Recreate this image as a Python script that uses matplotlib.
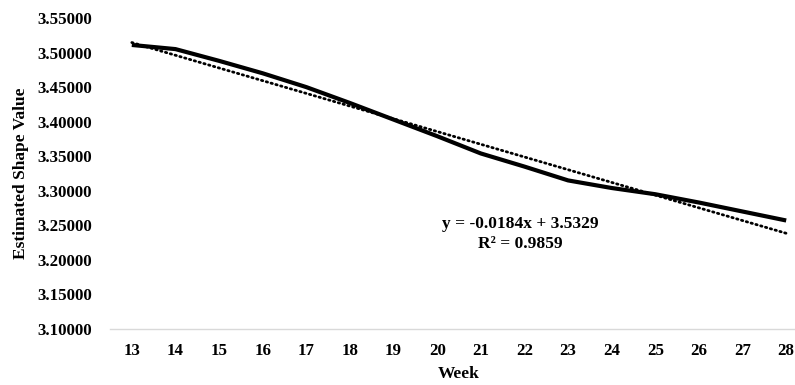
import numpy as np
import matplotlib
matplotlib.use("Agg")
import matplotlib.pyplot as plt

# 데이터
weeks = [13, 14, 15, 16, 17, 18, 19, 20, 21, 22, 23, 24, 25, 26, 27, 28]
shape_values = [3.511, 3.505, 3.488, 3.470, 3.450, 3.427, 3.403, 3.379,
                3.354, 3.335, 3.315, 3.304, 3.295, 3.283, 3.270, 3.257]
trend_slope = -0.0184
trend_intercept = 3.5329
trend_r2 = 0.9859
y_ticks = [3.10, 3.15, 3.20, 3.25, 3.30, 3.35, 3.40, 3.45, 3.50, 3.55]

plt.rcParams["font.family"] = ["Liberation Serif", "DejaVu Serif"]
plt.rcParams["font.weight"] = "bold"

fig = plt.figure(figsize=(7.95, 3.85), dpi=100)
ax = fig.add_axes([110 / 795, 1 - 329 / 385, 698 / 795, 311 / 385])

x = np.array(weeks)
idx = np.arange(1, len(weeks) + 1)
trend = trend_intercept + trend_slope * idx

ax.plot(x, shape_values, color="black", lw=3.0, solid_capstyle="butt", zorder=3)
ax.plot(x, trend, color="black", lw=2.0, linestyle=(0, (0.5, 1.3)),
        dash_capstyle="round", zorder=2)

ax.set_xlim(12.5, 28.5)
ax.set_ylim(3.10, 3.55)
ax.set_xticks(weeks)
ax.set_xticklabels([str(w) for w in weeks])
ax.set_yticks(y_ticks)
ax.set_yticklabels([f"{v:.5f}" for v in y_ticks])
ax.tick_params(axis="both", length=0, labelsize=12.2)
ax.tick_params(axis="y", pad=13)
ax.tick_params(axis="x", pad=10)

for s in ["top", "right", "left"]:
    ax.spines[s].set_visible(False)
ax.spines["bottom"].set_color("#d9d9d9")
ax.spines["bottom"].set_linewidth(1.0)

ax.set_xlabel("Week", fontsize=12.5, fontweight="bold", labelpad=5)
ax.set_ylabel("Estimated Shape Value", fontsize=12.5, fontweight="bold", labelpad=6)

ax.text(21.9, 3.252, f"y = {trend_slope}x + {trend_intercept}",
        ha="center", va="center", fontsize=12.5, fontweight="bold")
ax.text(21.9, 3.223, f"R² = {trend_r2}",
        ha="center", va="center", fontsize=12.5, fontweight="bold")

fig.savefig("out.png", dpi=100)
